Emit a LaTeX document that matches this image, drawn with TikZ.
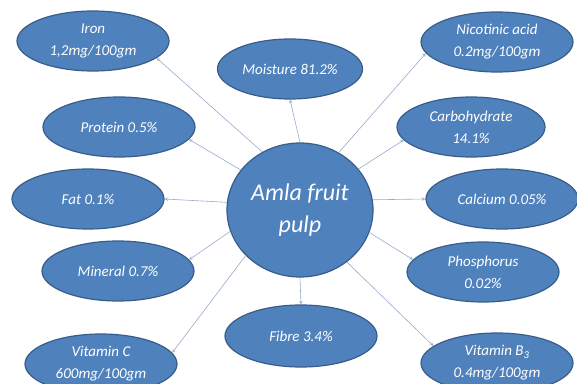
\documentclass[tikz,border=0pt]{standalone}
\usepackage{fontspec}
\setmainfont{Carlito}
\usetikzlibrary{shapes,arrows,positioning}

\definecolor{ovalblue}{RGB}{79,129,189}
\definecolor{ovaledge}{RGB}{56,93,138}
\definecolor{linkgray}{RGB}{150,170,204}

\begin{document}
\begin{tikzpicture}[
    x=1pt, y=1pt,
    item/.style={ellipse, draw=ovaledge, line width=1.2pt, fill=ovalblue, text=white, align=center, inner sep=0pt, minimum width=152pt, minimum height=60pt, font=\itshape\fontsize{15}{22}\selectfont},
    hub/.style={item, minimum width=146pt, minimum height=134pt, font=\itshape\fontsize{24}{32}\selectfont},
    arrow/.style={->, >=stealth, linkgray, line width=0.6pt}
]
\useasboundingbox (0,0) rectangle (577,383);

% Centre
\node[hub] (amla) at (300,173) {Amla fruit\\pulp};

% Left column
\node[item] (iron) at (93,342) {Iron\\1,2mg/100gm};
\node[item] (prot) at (119,256) {Protein 0.5\%};
\node[item] (fat) at (88,184) {Fat 0.1\%};
\node[item] (minl) at (118,112) {Mineral 0.7\%};
\node[item] (vitc) at (101,19) {Vitamin C\\600mg/100gm};

% Middle
\node[item, minimum width=145pt] (moist) at (290,314) {Moisture 81.2\%};
\node[item, minimum height=62pt] (fibre) at (301,47) {Fibre 3.4\%};

% Right column
\node[item] (nico) at (497,341) {Nicotinic acid\\0.2mg/100gm};
\node[item, minimum width=148pt] (carb) at (471,256) {Carbohydrate\\14.1\%};
\node[item] (calc) at (502,184) {Calcium 0.05\%};
\node[item] (phos) at (483,111) {Phosphorus\\0.02\%};
\node[item] (vitb) at (497,20) {Vitamin B\textsubscript{3}\\0.4mg/100gm};

% Arrows
\draw[arrow] (amla.123) -- (iron.-15);
\draw[arrow] (amla.146) -- (prot.-10);
\draw[arrow] (amla.174) -- (fat.east);
\draw[arrow] (amla.197) -- (minl.9);
\draw[arrow] (amla.220) -- (vitc.9);
\draw[arrow] (amla.south) -- (fibre.north);
\draw[arrow] (amla.312) -- (vitb.165);
\draw[arrow] (amla.342) -- (phos.170);
\draw[arrow] (amla.8) -- (calc.west);
\draw[arrow] (amla.35) -- (carb.191);
\draw[arrow] (amla.56) -- (nico.189);
\draw[arrow] (amla.north) -- (moist.south);
\end{tikzpicture}
\end{document}
